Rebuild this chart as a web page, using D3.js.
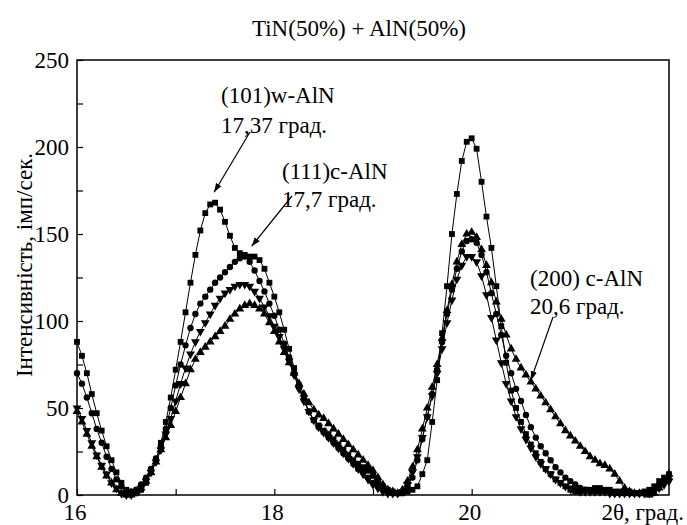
<!DOCTYPE html>
<html>
<head>
<meta charset="utf-8">
<script src="https://cdn.jsdelivr.net/npm/d3@7"></script>
<style>
  body { margin: 0; background: #fff; }
  svg text { font-family: "Liberation Serif", "Times New Roman", serif; fill: #000; }
</style>
</head>
<body>
<div id="chart"></div>
<script>
// 2theta, degrees
var angles = [
  16.00,16.05,16.10,16.15,16.20,16.25,16.30,16.35,16.40,16.45,
  16.50,16.55,16.60,16.65,16.70,16.75,16.80,16.85,16.90,16.95,
  17.00,17.05,17.10,17.15,17.20,17.25,17.30,17.35,17.40,17.45,
  17.50,17.55,17.60,17.65,17.70,17.75,17.80,17.85,17.90,17.95,
  18.00,18.05,18.10,18.15,18.20,18.25,18.30,18.35,18.40,18.45,
  18.50,18.55,18.60,18.65,18.70,18.75,18.80,18.85,18.90,18.95,
  19.00,19.05,19.10,19.15,19.20,19.25,19.30,19.35,19.40,19.45,
  19.50,19.55,19.60,19.65,19.70,19.75,19.80,19.85,19.90,19.95,
  20.00,20.05,20.10,20.15,20.20,20.25,20.30,20.35,20.40,20.45,
  20.50,20.55,20.60,20.65,20.70,20.75,20.80,20.85,20.90,20.95,
  21.00,21.05,21.10,21.15,21.20,21.25,21.30,21.35,21.40,21.45,
  21.50,21.55,21.60,21.65,21.70,21.75,21.80,21.85,21.90,21.95,
  22.00
];

var squares = [
  88,80,70,58,47,37,28,20,13,7,
  3,1,1,3,7,13,20,30,42,56,
  72,88,105,122,138,152,162,167,168,164,
  157,149,142,139,138,137,137,135,130,122,
  114,105,95,84,73,63,55,48,43,40,
  37,35,32,29,26,23,20,18,16,14,
  11,8,5,3,2,1,1,2,3,5,
  12,20,42,66,93,120,150,173,192,203,
  205,199,180,160,142,120,97,76,60,50,
  42,35,29,24,19,15,12,9,7,5,
  3,2,2,3,3,4,4,3,3,2,
  2,2,2,1,1,2,3,5,8,10,
  12
];

var circles = [
  70,64,56,47,38,30,22,15,9,5,
  2,2,3,6,10,15,21,28,38,50,
  63,75,86,96,104,110,114,118,122,125,
  128,131,134,136,137,134,129,123,117,110,
  103,95,87,79,70,62,55,48,43,39,
  36,33,30,27,24,21,18,15,13,10,
  7,5,3,2,1,1,2,5,10,20,
  32,45,58,72,88,104,118,130,140,146,
  147,145,138,128,116,104,92,80,70,61,
  54,46,39,33,28,24,20,16,13,10,
  8,6,4,3,2,2,2,2,2,1,
  1,1,1,1,1,1,2,3,5,7,
  9
];

var trianglesDown = [
  50,44,37,30,23,17,12,7,4,1,
  0,0,2,4,8,13,19,26,35,44,
  54,64,73,81,88,94,99,104,109,113,
  116,118,120,121,121,120,117,113,108,103,
  97,91,84,77,69,61,54,48,43,39,
  36,33,30,27,24,21,18,15,12,9,
  6,4,2,1,1,1,2,6,13,22,
  33,45,57,70,84,99,112,124,132,137,
  137,134,126,115,102,89,76,64,54,45,
  38,32,27,22,18,15,12,9,7,5,
  4,3,2,2,2,2,2,2,1,1,
  1,1,1,1,1,1,1,2,4,6,
  8
];

var trianglesUp = [
  48,42,35,28,22,16,11,7,3,1,
  0,0,2,4,8,13,19,26,33,40,
  48,56,64,72,78,82,85,88,91,94,
  97,101,104,107,109,110,109,107,104,99,
  94,88,82,76,70,64,58,53,49,46,
  44,41,38,35,32,29,26,23,20,17,
  14,10,6,3,2,1,3,8,16,26,
  38,50,62,75,90,106,121,134,144,150,
  151,148,141,132,122,111,101,92,84,78,
  73,69,65,61,57,53,49,45,41,37,
  34,31,28,25,22,20,18,17,15,12,
  8,4,2,1,1,1,0,1,4,8,
  12
];

var xTickLabels = [16, 18, 20];
var xMinorTicks = [17, 19, 21];
var yTickLabels = [0, 50, 100, 150, 200, 250];
var yMinorTicks = [25, 75, 125, 175, 225];

var title = "TiN(50%) + AlN(50%)";
var xTitle = "2\u03b8, град.";
var yTitle = "Інтенсивність, імп/сек.";

var width = 687, height = 525;
var margin = {top: 60, right: 18, bottom: 30, left: 77};
var fontSize = "23px";

var svg = d3.select("#chart").append("svg")
  .attr("width", width)
  .attr("height", height)
  .attr("font-family", "'Liberation Serif', 'Times New Roman', serif");

var x = d3.scaleLinear().domain([16, 22]).range([margin.left, width - margin.right]);
var y = d3.scaleLinear().domain([0, 250]).range([height - margin.bottom, margin.top]);

// arrowhead
svg.append("defs").append("marker")
  .attr("id", "arrow")
  .attr("viewBox", "0 0 10 10")
  .attr("refX", 10)
  .attr("refY", 5)
  .attr("markerWidth", 9)
  .attr("markerHeight", 9)
  .attr("markerUnits", "userSpaceOnUse")
  .attr("orient", "auto")
  .append("path")
  .attr("d", "M0,1.5 L10,5 L0,8.5 Z")
  .attr("fill", "#000");

// series
var series = [
  {values: trianglesUp, symbol: d3.symbolTriangle, size: 34, rotate: 0},
  {values: trianglesDown, symbol: d3.symbolTriangle, size: 34, rotate: 180},
  {values: circles, symbol: d3.symbolCircle, size: 32, rotate: 0},
  {values: squares, symbol: d3.symbolSquare, size: 34, rotate: 0}
];

var line = d3.line()
  .x(function (d) { return x(d[0]); })
  .y(function (d) { return y(d[1]); });

series.forEach(function (s) {
  var pts = angles.map(function (a, i) { return [a, s.values[i]]; });
  var g = svg.append("g");
  g.append("path")
    .datum(pts)
    .attr("d", line)
    .attr("fill", "none")
    .attr("stroke", "#000")
    .attr("stroke-width", 1);
  g.selectAll("path.pt")
    .data(pts)
    .enter()
    .append("path")
    .attr("class", "pt")
    .attr("d", d3.symbol().type(s.symbol).size(s.size))
    .attr("transform", function (d) {
      return "translate(" + x(d[0]) + "," + y(d[1]) + ") rotate(" + s.rotate + ")";
    })
    .attr("fill", "#000");
});

// frame
svg.append("rect")
  .attr("x", x(16))
  .attr("y", y(250))
  .attr("width", x(22) - x(16))
  .attr("height", y(0) - y(250))
  .attr("fill", "none")
  .attr("stroke", "#000")
  .attr("stroke-width", 1.5);

// axes with inward ticks
var xAxis = d3.axisTop(x).tickValues(xTickLabels.concat(xMinorTicks)).tickSize(6).tickFormat("");
svg.append("g")
  .attr("transform", "translate(0," + y(0) + ")")
  .call(xAxis)
  .call(function (g) { g.select(".domain").remove(); })
  .selectAll("line").attr("stroke-width", 1.2);

var yAxis = d3.axisRight(y).tickValues(yTickLabels.concat(yMinorTicks)).tickSize(6).tickFormat("");
svg.append("g")
  .attr("transform", "translate(" + x(16) + ",0)")
  .call(yAxis)
  .call(function (g) { g.select(".domain").remove(); })
  .selectAll("line").attr("stroke-width", 1.2);

// tick labels
svg.append("g").selectAll("text")
  .data(xTickLabels)
  .enter()
  .append("text")
  .attr("x", function (d) { return x(d) - 2; })
  .attr("y", 520)
  .attr("text-anchor", "middle")
  .style("font-size", fontSize)
  .text(function (d) { return d; });

svg.append("g").selectAll("text")
  .data(yTickLabels)
  .enter()
  .append("text")
  .attr("x", x(16) - 8)
  .attr("y", function (d) { return y(d); })
  .attr("dy", "0.35em")
  .attr("text-anchor", "end")
  .style("font-size", fontSize)
  .text(function (d) { return d; });

// titles
svg.append("text")
  .attr("x", 359)
  .attr("y", 36)
  .attr("text-anchor", "middle")
  .style("font-size", fontSize)
  .text(title);

svg.append("text")
  .attr("x", 684)
  .attr("y", 520)
  .attr("text-anchor", "end")
  .style("font-size", fontSize)
  .text(xTitle);

svg.append("text")
  .attr("transform", "translate(32,265) rotate(-90)")
  .attr("text-anchor", "middle")
  .style("font-size", fontSize)
  .text(yTitle);

// annotations
var notes = [
  {lines: ["(101)w-AlN", "17,37 град."], tx: 221, ty: 103, dy: 30, from: [250, 132], to: [17.39, 174]},
  {lines: ["(111)c-AlN", "17,7 град."], tx: 282, ty: 179, dy: 28, from: [292, 196], to: [17.77, 143]},
  {lines: ["(200) c-AlN", "20,6 град."], tx: 530, ty: 286, dy: 28, from: [553, 317], to: [20.6, 66]}
];

notes.forEach(function (n) {
  n.lines.forEach(function (l, i) {
    svg.append("text")
      .attr("x", n.tx)
      .attr("y", n.ty + i * n.dy)
      .style("font-size", fontSize)
      .text(l);
  });
  svg.append("line")
    .attr("x1", n.from[0])
    .attr("y1", n.from[1])
    .attr("x2", x(n.to[0]))
    .attr("y2", y(n.to[1]))
    .attr("stroke", "#000")
    .attr("stroke-width", 1.2)
    .attr("marker-end", "url(#arrow)");
});
</script>
</body>
</html>
